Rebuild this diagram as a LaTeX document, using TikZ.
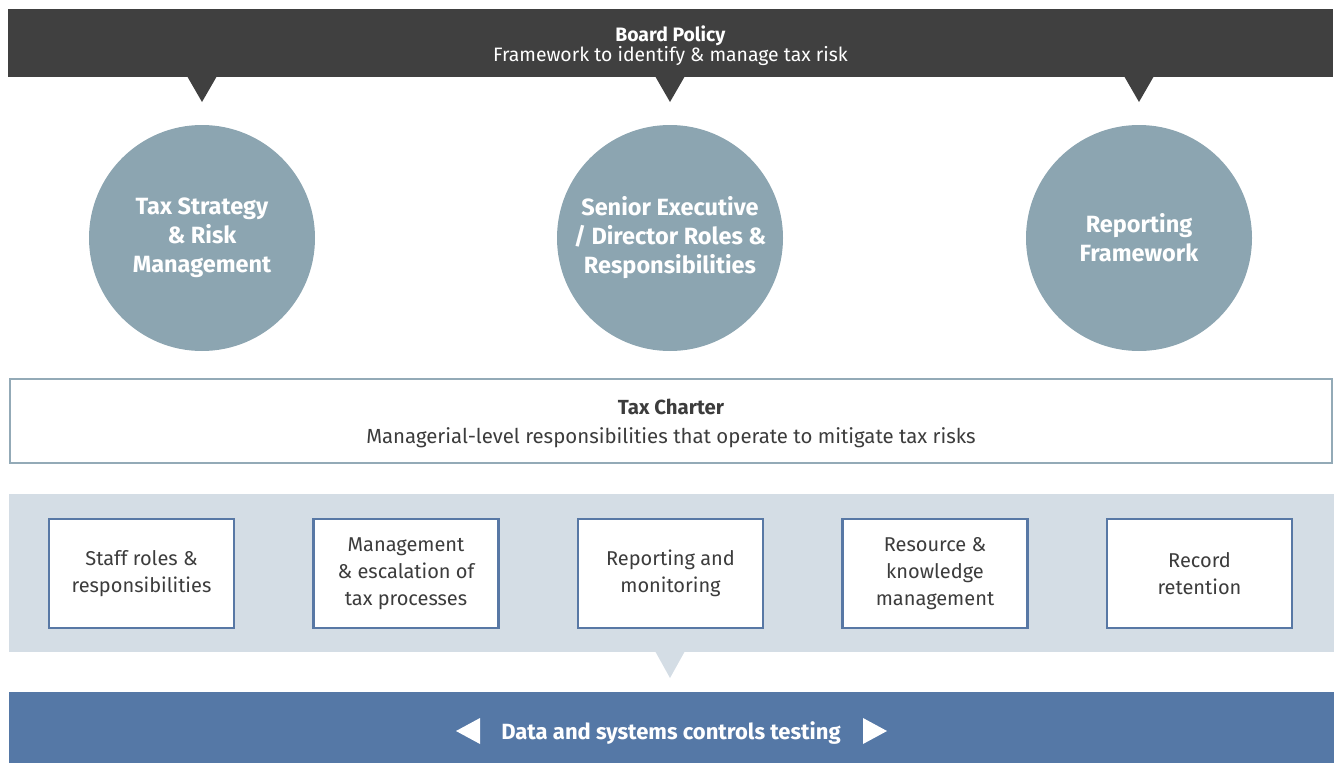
\documentclass[tikz,border=0pt]{standalone}
\usepackage{fontspec}
\setmainfont{Fira Sans}
\usetikzlibrary{positioning,calc}
\definecolor{barGrey}{HTML}{404040}
\definecolor{circBlue}{HTML}{8CA5B1}
\definecolor{charterLine}{HTML}{93AAB7}
\definecolor{bandBlue}{HTML}{D4DDE5}
\definecolor{itemLine}{HTML}{5878A5}
\definecolor{dataBlue}{HTML}{5578A6}
\definecolor{textGrey}{HTML}{3C3C3C}
\tikzset{
  bar/.style={minimum width=1325pt, inner sep=0pt, align=center},
  circ/.style={circle, fill=circBlue, minimum size=226pt, inner sep=0pt,
    text=white, align=center, font=\fontsize{23.5}{29}\selectfont\bfseries},
  item/.style={draw=itemLine, line width=2.5pt, fill=white, minimum width=185pt,
    minimum height=109pt, inner sep=0pt, align=center, text=textGrey,
    font=\fontsize{20}{27}\selectfont},
}
\begin{document}
\begin{tikzpicture}[x=1pt,y=-1pt]
    \useasboundingbox (0,0) rectangle (1336,763);
    % board policy
    \node[bar, fill=barGrey, minimum height=68pt] (policy) at (670.5,43) {};
    \node[text=white, align=center, inner sep=0pt, font=\fontsize{19.4}{20}\selectfont] (policylabel) at (670.5,46) {\textbf{Board Policy}\\Framework to identify \& manage tax risk};
    \fill[barGrey] (187,76) -- (217,76) -- (202,102) -- cycle;
    \fill[barGrey] (655,76) -- (685,76) -- (670,102) -- cycle;
    \fill[barGrey] (1124,76) -- (1154,76) -- (1139,102) -- cycle;
    % circles
    \node[circ] (strategy) at (202,238) {Tax Strategy\\\& Risk\\Management};
    \node[circ] (roles) at (670,238) {Senior Executive\\/ Director Roles \&\\Responsibilities};
    \node[circ] (report) at (1139,238) {Reporting\\Framework};
    % tax charter
    \node[bar, draw=charterLine, line width=2pt, minimum width=1322pt, minimum height=84pt] (charter) at (671,421) {};
    \node[text=textGrey, align=center, inner sep=0pt, font=\fontsize{20.4}{29}\selectfont] (charterlabel) at (671,423) {\textbf{Tax Charter}\\Managerial-level responsibilities that operate to mitigate tax risks};
    % band of items
    \node[bar, fill=bandBlue, minimum height=158pt] (band) at (671,573) {};
    \fill[bandBlue] (655,651) -- (685,651) -- (670,678) -- cycle;
    \node[item] (staff) at (141.5,573.5) {Staff roles \&\\responsibilities};
    \node[item, right=77pt of staff] (escal) {Management\\\& escalation of\\tax processes};
    \node[item, right=77pt of escal] (monitor) {Reporting and\\monitoring};
    \node[item, right=77pt of monitor] (knowledge) {Resource \&\\knowledge\\management};
    \node[item, right=77pt of knowledge] (record) {Record\\retention};
    % data and systems
    \node[bar, fill=dataBlue, minimum height=71pt] (data) at (671,727.5) {};
    \node[text=white, font=\fontsize{22}{24}\selectfont\bfseries, inner sep=0pt] (datalabel) at (671,733) {Data and systems controls testing};
    \fill[white] (480,718) -- (480,744) -- (456,731) -- cycle;
    \fill[white] (863,718) -- (863,744) -- (887,731) -- cycle;
\end{tikzpicture}
\end{document}
